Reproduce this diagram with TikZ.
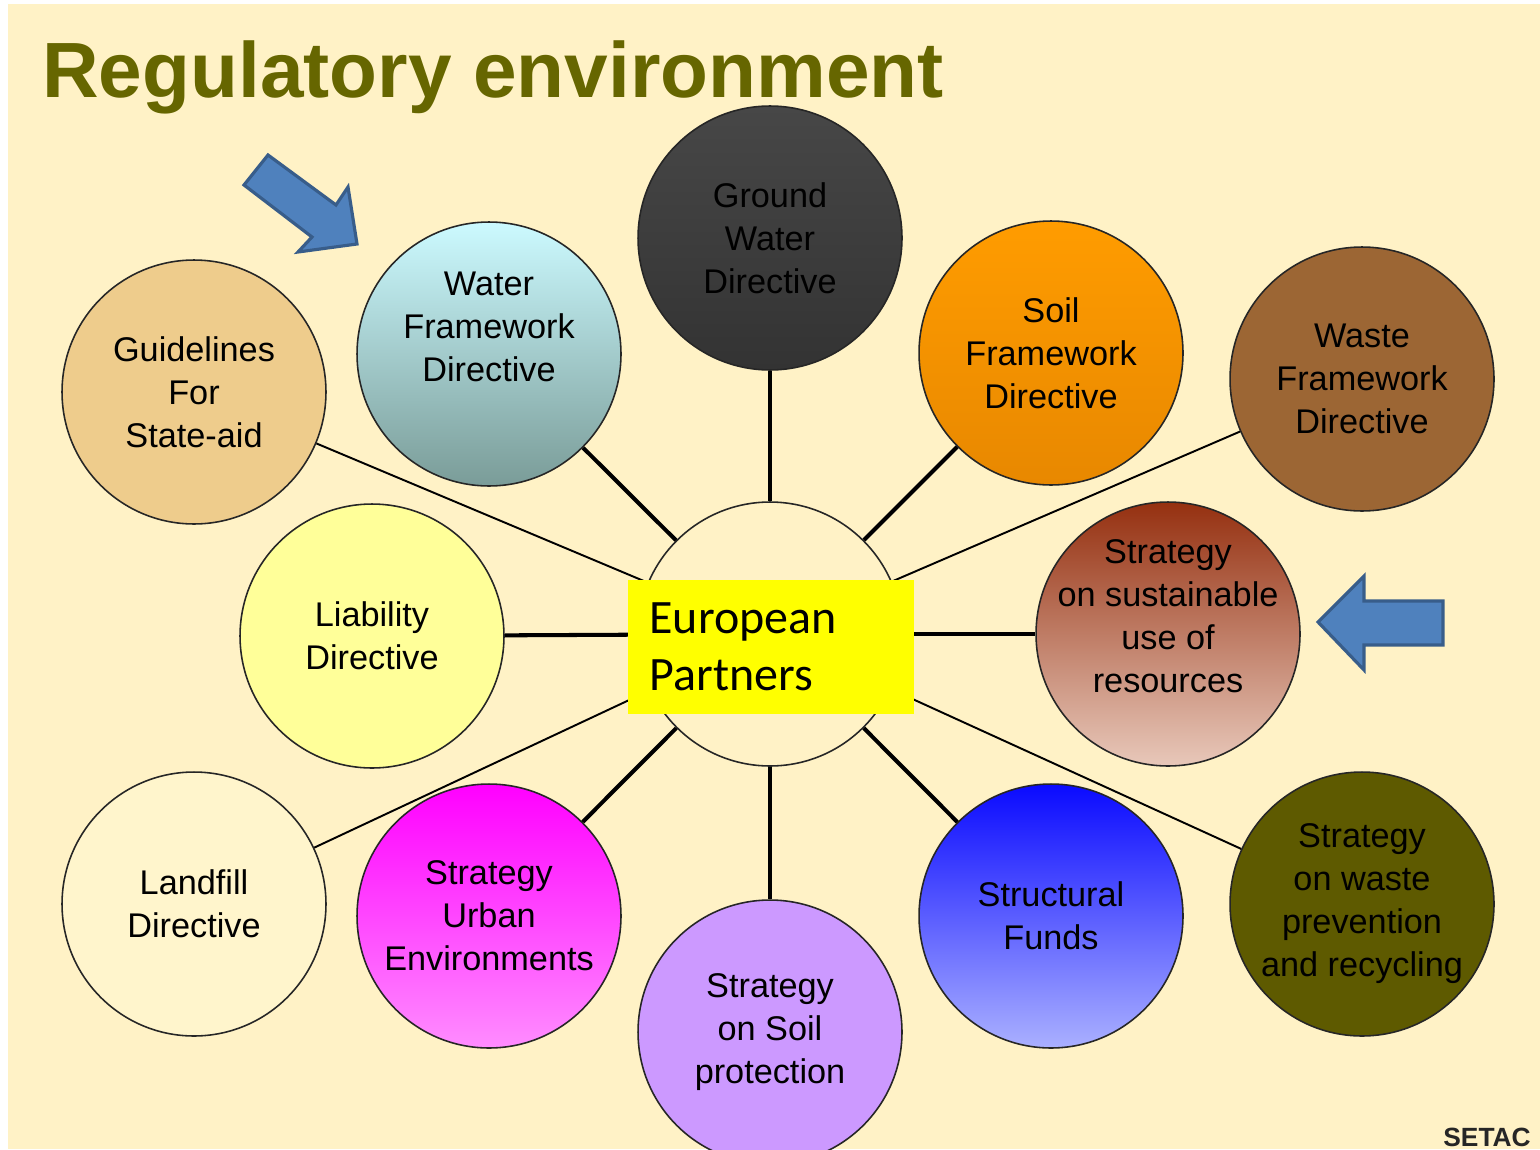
\documentclass[tikz,border=0pt]{standalone}
\usepackage{fontspec}
\setmainfont{Liberation Sans}
\newfontfamily\calibri{Carlito}
\definecolor{bgcream}{HTML}{FFF2C6}
\definecolor{titleolive}{HTML}{666600}
\definecolor{arrowblue}{HTML}{4F81BD}
\definecolor{arrowedge}{HTML}{385D8A}
\definecolor{guidetan}{HTML}{EECC8C}
\definecolor{wfdtop}{HTML}{CCFAFF}
\definecolor{wfdbot}{HTML}{7A9C98}
\definecolor{gwdtop}{HTML}{474747}
\definecolor{gwdbot}{HTML}{333333}
\definecolor{sfdtop}{HTML}{FF9C00}
\definecolor{sfdbot}{HTML}{E88800}
\definecolor{wastebrown}{HTML}{9C6634}
\definecolor{liabyellow}{HTML}{FFFF99}
\definecolor{susttop}{HTML}{953010}
\definecolor{sustbot}{HTML}{E8C8BA}
\definecolor{landcream}{HTML}{FFF5CC}
\definecolor{urbantop}{HTML}{FF00FF}
\definecolor{urbanbot}{HTML}{FF8CFF}
\definecolor{soillilac}{HTML}{CC99FF}
\definecolor{fundstop}{HTML}{0A0AFF}
\definecolor{fundsbot}{HTML}{AAB0FF}
\definecolor{prevolive}{HTML}{5E5A00}
\definecolor{boxyellow}{HTML}{FFFF00}
\tikzset{
	bubble/.style={circle, draw=black!85, line width=0.9pt, minimum size=5.28cm, inner sep=0pt},
	btext/.style={align=center, text=black, font=\fontsize{19.5}{24.5}\selectfont},
	spoke/.style={line width=2.3pt},
	thinspoke/.style={line width=1.1pt},
	bluearrow/.style={fill=arrowblue, draw=arrowedge, line width=1.8pt, line join=miter}
}

\begin{document}
\begin{tikzpicture}[x=0.02cm, y=-0.02cm]
	%%%%% START %%%%%
	
	\useasboundingbox (0,0) rectangle (1540,1149);
	\fill[white] (0,0) rectangle (1540,1149);
	\fill[bgcream] (8,4) rectangle (1540,1149);
	
	\node[anchor=base west, inner sep=0pt, text=titleolive, font=\bfseries\fontsize{44.6}{54}\selectfont] (title) at (42,97) {Regulatory environment};
	
	% hub
	\node[bubble, fill=bgcream] (hub) at (770,634) {};
	
	% upper row
	\node[bubble, fill=guidetan, label={[btext]center:Guidelines\\For\\State-aid}] (guide) at (194,392) {};
	\node[bubble, top color=wfdtop, bottom color=wfdbot, label={[btext,yshift=0.54cm]center:Water\\Framework\\Directive}] (wfd) at (489,354) {};
	\node[bubble, top color=gwdtop, bottom color=gwdbot, label={[btext]center:Ground\\Water\\Directive}] (gwd) at (770,238) {};
	\node[bubble, top color=sfdtop, bottom color=sfdbot, label={[btext]center:Soil\\Framework\\Directive}] (sfd) at (1051,353) {};
	\node[bubble, fill=wastebrown, label={[btext]center:Waste\\Framework\\Directive}] (wastefd) at (1362,379) {};
	
	% middle row
	\node[bubble, fill=liabyellow, label={[btext]center:Liability\\Directive}] (liab) at (372,636) {};
	\node[bubble, top color=susttop, bottom color=sustbot, label={[btext,yshift=0.36cm]center:Strategy\\on sustainable\\use of\\resources}] (sust) at (1168,634) {};
	
	% lower row
	\node[bubble, fill=landcream, label={[btext]center:Landfill\\Directive}] (landfill) at (194,904) {};
	\node[bubble, top color=urbantop, bottom color=urbanbot, label={[btext]center:Strategy\\Urban\\Environments}] (urban) at (489,916) {};
	\node[bubble, fill=soillilac, label={[btext]center:Strategy\\on Soil\\protection}] (soilprot) at (770,1032) {};
	\node[bubble, top color=fundstop, bottom color=fundsbot, label={[btext]center:Structural\\Funds}] (funds) at (1051,916) {};
	\node[bubble, fill=prevolive, label={[btext]center:Strategy\\on waste\\prevention\\and recycling}] (wasteprev) at (1362,904) {};
	
	% spokes
	\draw[spoke] (hub) -- (wfd);
	\draw[spoke] (hub) -- (gwd);
	\draw[spoke] (hub) -- (sfd);
	\draw[spoke] (hub) -- (liab);
	\draw[spoke] (hub) -- (sust);
	\draw[spoke] (hub) -- (urban);
	\draw[spoke] (hub) -- (soilprot);
	\draw[spoke] (hub) -- (funds);
	\draw[thinspoke] (hub) -- (guide);
	\draw[thinspoke] (hub) -- (wastefd);
	\draw[thinspoke] (hub) -- (landfill);
	\draw[thinspoke] (hub) -- (wasteprev);
	
	\node[fill=boxyellow, text width=4.86cm, inner xsep=0.44cm, minimum height=2.7cm, align=left, font=\calibri\fontsize{27.3}{32.4}\selectfont] (partners) at (771,647) {European\\Partners};
	
	% pointers
	\draw[bluearrow] (268,155) -- (336,205) -- (348,187) -- (357,244) -- (298,252) -- (312,237) -- (244,185) -- cycle;
	\draw[bluearrow] (1318,622) -- (1364,576) -- (1364,601) -- (1443,601) -- (1443,645) -- (1364,645) -- (1364,670) -- cycle;
	
	\node[anchor=base west, inner sep=0pt, text=black!85, font=\bfseries\fontsize{15}{17}\selectfont] (setac) at (1443,1146) {SETAC};
	
	%%%%% END %%%%%
\end{tikzpicture}
\end{document}
